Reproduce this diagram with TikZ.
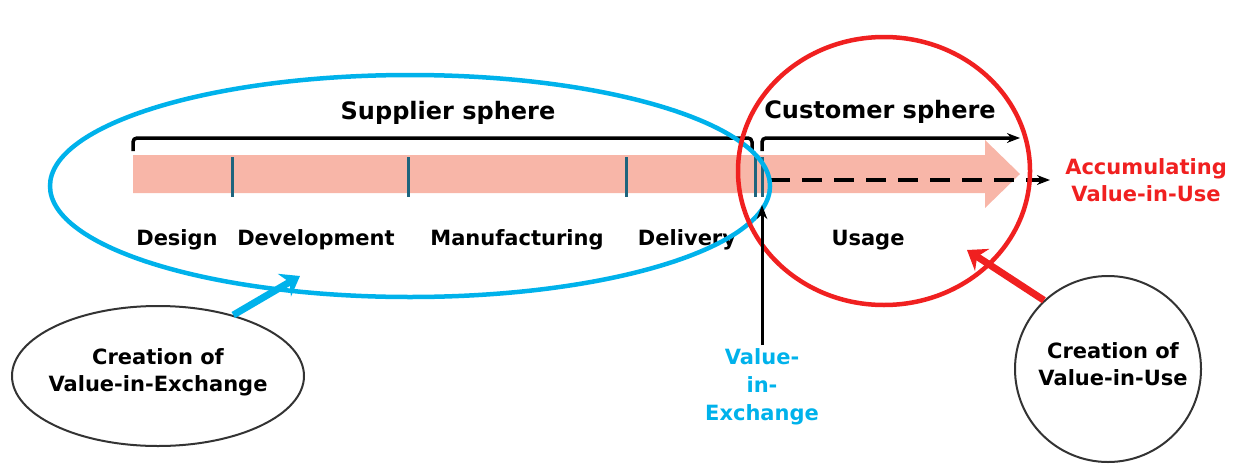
\documentclass[tikz,border=0pt]{standalone}
\usepackage{fontspec}
\setmainfont{DejaVu Sans}
\usepackage{xcolor}
\usetikzlibrary{arrows.meta, shapes.geometric}
\definecolor{barpink}{RGB}{248,182,168}
\definecolor{tickblue}{RGB}{30,100,125}
\definecolor{skyblue}{RGB}{0,178,235}
\definecolor{brightred}{RGB}{240,32,32}

\begin{document}
\begin{tikzpicture}[x=1pt, y=-1pt, font=\bfseries\fontsize{21}{27}\selectfont]
            \useasboundingbox (0,0) rectangle (1238,463);

            % the value chain bar
            \fill[barpink] (133,155) -- (985,155) -- (985,140) -- (1020,174) -- (985,208) -- (985,193) -- (133,193) -- cycle;
            \foreach \x in {232, 408, 626, 755, 762} {
                \draw[tickblue, line width=3pt] (\x,157) -- (\x,197);
            }

            % spheres
            \draw[line width=3.5pt, rounded corners=4pt] (133,151) -- (133,138) -- (752,138) -- (752,151);
            \draw[line width=3.5pt, rounded corners=4pt, -{Stealth[length=13pt]}] (762,151) -- (762,138) -- (1020,138);
            \node[font=\bfseries\fontsize{24}{28}\selectfont] (supplier) at (448,113) {Supplier sphere};
            \node[font=\bfseries\fontsize{24}{28}\selectfont] (customer) at (880,112) {Customer sphere};

            \coordinate (dashstart) at (770,180);
            \coordinate (dashend) at (1050,180);
            \draw[line width=3.5pt, dash pattern=on 20pt off 12pt, -{Stealth[length=13pt]}] (dashstart) -- (dashend);
            \node[brightred, align=center] (accum) at (1146,180) {Accumulating\\Value-in-Use};

            % stages
            \node (design) at (177,240) {Design};
            \node (develop) at (316,240) {Development};
            \node (manuf) at (517,240) {Manufacturing};
            \node (deliver) at (687,240) {Delivery};
            \node (usage) at (868,240) {Usage};

            % rings
            \node[draw=skyblue, line width=4.5pt, ellipse, minimum width=720pt, minimum height=222pt] (supring) at (410,186) {};
            \node[draw=brightred, line width=4.5pt, ellipse, minimum width=292pt, minimum height=268pt] (custring) at (884,171) {};

            % bubbles
            \node[draw=black!80, line width=2pt, ellipse, minimum width=292pt, minimum height=140pt] (exchbubble) at (158,376) {};
            \node[align=center] (exchtext) at (158,372) {Creation of\\Value-in-Exchange};
            \node[draw=black!80, line width=2pt, circle, minimum size=186pt] (usebubble) at (1108,369) {};
            \node[align=center] (usetext) at (1113,364) {Creation of\\Value-in-Use};

            \coordinate (exchtip) at (300,276);
            \coordinate (usetip) at (967,250);
            \draw[skyblue, line width=7pt, -{Stealth[length=18pt, width=26pt]}] (exchbubble.39) -- (exchtip);
            \draw[brightred, line width=7pt, -{Stealth[length=18pt, width=26pt]}] (usebubble.133) -- (usetip);

            % value in exchange
            \node[skyblue, align=center, font=\bfseries\fontsize{21}{28}\selectfont] (vie) at (762,387) {Value-\\in-\\Exchange};
            \coordinate (vietip) at (762,205);
            \draw[line width=3pt, -{Stealth[length=14pt]}] (vie.north) -- (vietip);

        \end{tikzpicture}
\end{document}
